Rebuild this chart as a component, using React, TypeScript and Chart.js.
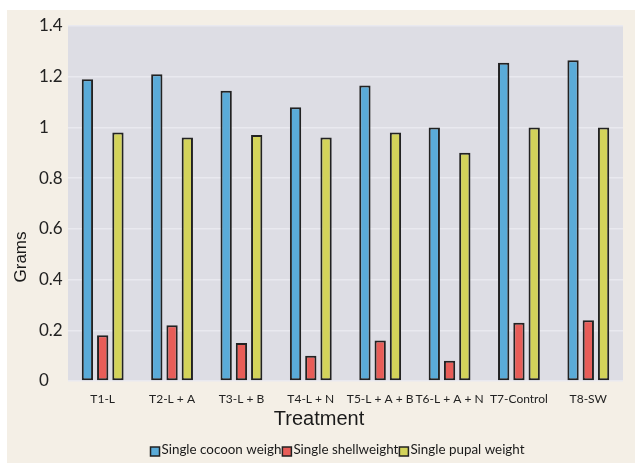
import React, { useEffect, useRef } from "react";
import { Chart, registerables } from "chart.js";

Chart.register(...registerables);

const categories = ["T1-L", "T2-L + A", "T3-L + B", "T4-L + N", "T5-L + A + B", "T6-L + A + N", "T7-Control", "T8-SW"];
const cocoonWeight = [1.19, 1.21, 1.145, 1.08, 1.165, 1.0, 1.255, 1.265];
const shellWeight = [0.18, 0.22, 0.15, 0.1, 0.16, 0.08, 0.23, 0.24];
const pupalWeight = [0.98, 0.96, 0.97, 0.96, 0.98, 0.9, 1.0, 1.0];
const seriesLabels = ["Single cocoon weigh", "Single shellweight", "Single pupal weight"];
const yTicks = [0, 0.2, 0.4, 0.6, 0.8, 1, 1.2, 1.4];

const COLORS = ["#5aabd8", "#e85d58", "#d3d35a"];
const CREAM = "#f4efe6";
const PLOT_BG = "#dddde4";

export default function App() {
  const ref = useRef<HTMLCanvasElement | null>(null);
  useEffect(() => {
    if (!ref.current) return;
    const decor = {
      id: "decor",
      beforeDraw(chart: any) {
        const { ctx, chartArea } = chart;
        ctx.save();
        ctx.fillStyle = CREAM;
        ctx.fillRect(0, 0, chart.width, chart.height);
        ctx.fillStyle = PLOT_BG;
        ctx.fillRect(chartArea.left, chartArea.top, chartArea.right - chartArea.left, chartArea.bottom - chartArea.top);
        ctx.restore();
      },
      afterDraw(chart: any) {
        const { ctx } = chart;
        ctx.save();
        ctx.fillStyle = "#1a1a1a";
        ctx.font = '17px "Liberation Sans", Arial, sans-serif';
        ctx.textAlign = "center";
        ctx.textBaseline = "middle";
        ctx.translate(14, 247);
        ctx.rotate(-Math.PI / 2);
        ctx.fillText("Grams", 0, 0);
        ctx.restore();
        ctx.save();
        ctx.fillStyle = "#1a1a1a";
        ctx.font = '20px "Liberation Sans", Arial, sans-serif';
        ctx.textAlign = "center";
        ctx.textBaseline = "middle";
        ctx.fillText("Treatment", 312, 409);
        ctx.font = '13.4px Lato, sans-serif';
        ctx.textAlign = "left";
        ctx.textBaseline = "alphabetic";
        const box = 9;
        const widths = chart.data.datasets.map((d: any) => box + 2 + ctx.measureText(d.label).width + 1);
        const total = widths.reduce((a: number, b: number) => a + b, 0);
        let x = 331 - total / 2;
        const base = 444;
        chart.data.datasets.forEach((d: any, i: number) => {
          ctx.fillStyle = d.backgroundColor;
          ctx.fillRect(x, base - box + 2, box, box);
          ctx.strokeStyle = "#222";
          ctx.lineWidth = 1.5;
          ctx.strokeRect(x, base - box + 2, box, box);
          ctx.fillStyle = "#1a1a1a";
          ctx.fillText(d.label, x + box + 2, base);
          x += widths[i];
        });
        ctx.restore();
      },
    };
    const mk = (i: number, data: number[]) => ({
      label: seriesLabels[i],
      data,
      backgroundColor: COLORS[i],
      borderColor: "#222",
      borderWidth: 2,
      borderSkipped: false,
      categoryPercentage: 0.66,
      barPercentage: 0.74,
    });
    const chart = new Chart(ref.current, {
      type: "bar",
      data: {
        labels: categories,
        datasets: [mk(0, cocoonWeight), mk(1, shellWeight), mk(2, pupalWeight)],
      },
      options: {
        animation: false,
        responsive: false,
        devicePixelRatio: 1,
        layout: { padding: { left: 32, right: 12, top: 16, bottom: 0 } },
        plugins: { legend: { display: false }, tooltip: { enabled: false } },
        scales: {
          x: {
            grid: { display: false, drawTicks: false },
            border: { display: false },
            ticks: { font: { family: "Lato", size: 12 }, color: "#222", padding: 11, maxRotation: 0, autoSkip: false },
            afterFit: (s: any) => { s.height = 82; },
          },
          y: {
            min: 0,
            max: 1.4,
            afterBuildTicks: (s: any) => { s.ticks = yTicks.map((v) => ({ value: v })); },
            grid: { color: "#e9e9ef", lineWidth: 1.5, drawTicks: false },
            border: { display: false },
            ticks: {
              font: { family: "Lato", size: 17 },
              color: "#222",
              crossAlign: "far",
              padding: 4,
              callback: (v: any) => String(v),
            },
            afterFit: (s: any) => { s.width = 29; },
          },
        },
      },
      plugins: [decor],
    } as any);
    return () => chart.destroy();
  }, []);
  return (
    <div style={{ position: "absolute", left: 7, top: 10, width: 628, height: 453, background: CREAM }}>
      <canvas ref={ref} width={628} height={453} style={{ display: "block" }} />
    </div>
  );
}
